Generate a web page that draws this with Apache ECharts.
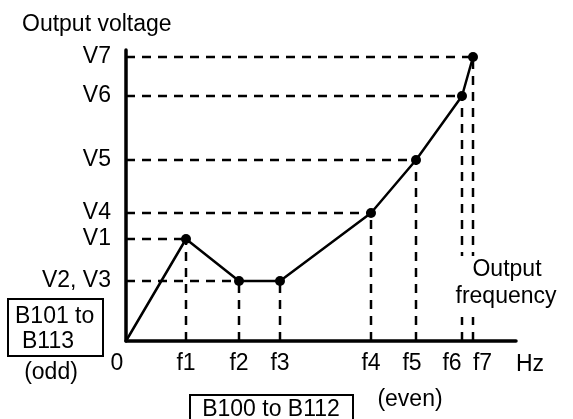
<!DOCTYPE html>
<html>
<head>
<meta charset="utf-8">
<script src="https://cdn.jsdelivr.net/npm/echarts@6/dist/echarts.min.js"></script>
<style>
html,body{margin:0;padding:0;background:#fff;}
#c{width:573px;height:419px;}
</style>
</head>
<body>
<div id="c"></div>
<script>
// ---- data ----
const freqNames = ['0', 'f1', 'f2', 'f3', 'f4', 'f5', 'f6', 'f7'];
const freqValues = [0, 60, 113, 154, 245, 290, 336, 347];
const voltNames = ['', 'V1', 'V2', 'V3', 'V4', 'V5', 'V6', 'V7'];
const voltValues = [0, 102, 60, 60, 128, 181, 245, 284];
const yTickValues = [60, 102, 128, 181, 245, 284];
const yTickLabels = ['V2, V3', 'V1', 'V4', 'V5', 'V6', 'V7'];
const xMax = 390;
const yMax = 291;

const FONT = 'Liberation Sans';
const FS = 23;

// label nudges (style only)
const xLabelStyleKey = {'0': 's0', 'f5': 's5', 'f6': 's6', 'f7': 's7'};

const chart = echarts.init(document.getElementById('c'), null, {renderer: 'canvas'});

const points = freqValues.map((f, i) => [f, voltValues[i]]);

const dashStyle = {color: '#000', width: 2.5, type: [9, 7]};
const dashSeries = [];
for (let i = 1; i < freqValues.length; i++) {
  if (i !== 3) {
    dashSeries.push({
      type: 'line', silent: true, symbol: 'none', animation: false,
      lineStyle: dashStyle, z: 1,
      data: [[0, voltValues[i]], [freqValues[i], voltValues[i]]]
    });
  }
  dashSeries.push({
    type: 'line', silent: true, symbol: 'none', animation: false,
    lineStyle: dashStyle, z: 1,
    data: [[freqValues[i], 0], [freqValues[i], voltValues[i]]]
  });
}

const baseText = {fontFamily: FONT, fontSize: FS, color: '#000'};
const gfont = FS + 'px "' + FONT + '"';

const option = {
  backgroundColor: '#fff',
  animation: false,
  title: {
    text: 'Output voltage',
    left: 17, top: 8,
    textStyle: {fontFamily: FONT, fontSize: FS, fontWeight: 'normal', color: '#000'}
  },
  grid: {left: 126, right: 57, top: 50, bottom: 78},
  xAxis: {
    type: 'value', min: 0, max: xMax,
    name: 'Hz', nameLocation: 'end', nameGap: 0,
    nameTextStyle: Object.assign({}, baseText, {align: 'left', verticalAlign: 'top', padding: [12, 0, 0, 0]}),
    axisLine: {lineStyle: {color: '#000', width: 3.5}},
    axisTick: {show: false},
    splitLine: {show: false},
    axisLabel: Object.assign({}, baseText, {
      customValues: freqValues,
      margin: 11,
      formatter: function (val) {
        const idx = freqValues.indexOf(val);
        const name = idx >= 0 ? freqNames[idx] : '';
        const key = xLabelStyleKey[name];
        return key ? '{' + key + '|' + name + '}' : name;
      },
      rich: {
        s0: Object.assign({}, baseText, {padding: [0, 18, 0, 0]}),
        s5: Object.assign({}, baseText, {padding: [0, 8, 0, 0]}),
        s6: Object.assign({}, baseText, {padding: [0, 20, 0, 0]}),
        s7: Object.assign({}, baseText, {padding: [0, 0, 0, 19]})
      }
    })
  },
  yAxis: {
    type: 'value', min: 0, max: yMax,
    axisLine: {show: true, lineStyle: {color: '#000', width: 3.5}},
    axisTick: {show: false},
    splitLine: {show: false},
    axisLabel: Object.assign({}, baseText, {
      customValues: yTickValues,
      margin: 15,
      formatter: function (val) {
        const idx = yTickValues.indexOf(val);
        return idx >= 0 ? yTickLabels[idx] : '';
      }
    })
  },
  graphic: [
    {type: 'rect', z: 100, shape: {x: 8, y: 299, width: 95, height: 57},
     style: {fill: '#fff', stroke: '#000', lineWidth: 2}},
    {type: 'text', z: 101, x: 15, y: 317,
     style: {text: 'B101 to', font: gfont, fill: '#000', verticalAlign: 'middle', align: 'left'}},
    {type: 'text', z: 101, x: 22, y: 342,
     style: {text: 'B113', font: gfont, fill: '#000', verticalAlign: 'middle', align: 'left'}},
    {type: 'text', z: 101, x: 51, y: 373,
     style: {text: '(odd)', font: gfont, fill: '#000', verticalAlign: 'middle', align: 'center'}},
    {type: 'rect', z: 100, shape: {x: 190, y: 395, width: 163, height: 40},
     style: {fill: '#fff', stroke: '#000', lineWidth: 2}},
    {type: 'text', z: 101, x: 271, y: 410,
     style: {text: 'B100 to B112', font: gfont, fill: '#000', verticalAlign: 'middle', align: 'center'}},
    {type: 'text', z: 101, x: 410, y: 400,
     style: {text: '(even)', font: gfont, fill: '#000', verticalAlign: 'middle', align: 'center'}},
    {type: 'rect', z: 100, shape: {x: 450, y: 256, width: 115, height: 61},
     style: {fill: '#fff', stroke: null}},
    {type: 'text', z: 101, x: 507, y: 270,
     style: {text: 'Output', font: gfont, fill: '#000', verticalAlign: 'middle', align: 'center'}},
    {type: 'text', z: 101, x: 506, y: 297,
     style: {text: 'frequency', font: gfont, fill: '#000', verticalAlign: 'middle', align: 'center'}}
  ],
  series: dashSeries.concat([
    {
      type: 'line', name: 'Output voltage', z: 5, animation: false,
      data: points,
      symbol: 'circle',
      symbolSize: function (v, p) { return p.dataIndex === 0 ? 0 : 10; },
      itemStyle: {color: '#000'},
      lineStyle: {color: '#000', width: 2.5}
    }
  ])
};

chart.setOption(option);
</script>
</body>
</html>
